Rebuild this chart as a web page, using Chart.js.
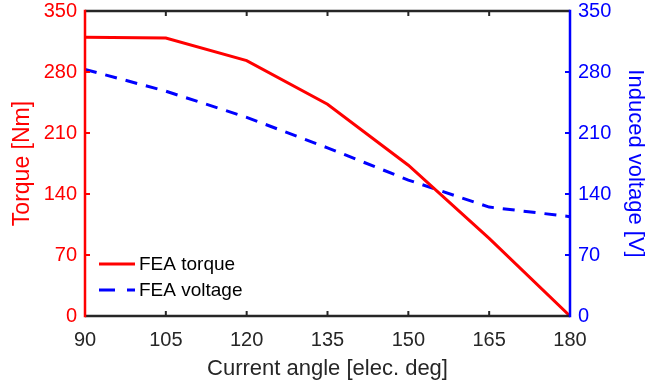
<!DOCTYPE html>
<html><head><meta charset="utf-8">
<script src="https://cdn.jsdelivr.net/npm/chart.js@4/dist/chart.umd.min.js"></script>
<style>html,body{margin:0;padding:0;background:#fff}#wrap{width:663px;height:388px}</style>
</head><body><div id="wrap"><canvas id="c" width="663" height="388"></canvas></div>
<script>
const angles = [90, 105, 120, 135, 150, 165, 180];
const torque = [320, 319, 293, 243, 173, 89, 0];
const voltage = [283, 258, 228, 193, 156, 125, 114];
const xTicks = [90, 105, 120, 135, 150, 165, 180];
const yTicks = [0, 70, 140, 210, 280, 350];
const seriesNames = ['FEA torque', 'FEA voltage'];

const FONT = '"Liberation Sans", Arial, sans-serif';
const DARK = '#262626';

const framePlugin = {
  id: 'frame',
  afterDatasetsDraw(chart) {
    const ctx = chart.ctx, a = chart.chartArea;
    const x = chart.scales.x, y = chart.scales.y, y2 = chart.scales.y2;
    ctx.save();
    ctx.lineCap = 'butt';
    ctx.lineWidth = 2;
    ctx.strokeStyle = DARK;
    xTicks.forEach(v => {
      const px = x.getPixelForValue(v);
      ctx.beginPath(); ctx.moveTo(px, a.bottom); ctx.lineTo(px, a.bottom - 5); ctx.stroke();
      ctx.beginPath(); ctx.moveTo(px, a.top); ctx.lineTo(px, a.top + 5); ctx.stroke();
    });
    ctx.strokeStyle = '#ff0000';
    yTicks.forEach(v => {
      const py = y.getPixelForValue(v);
      ctx.beginPath(); ctx.moveTo(a.left, py); ctx.lineTo(a.left + 5, py); ctx.stroke();
    });
    ctx.strokeStyle = '#0000ff';
    yTicks.forEach(v => {
      const py = y2.getPixelForValue(v);
      ctx.beginPath(); ctx.moveTo(a.right, py); ctx.lineTo(a.right - 5, py); ctx.stroke();
    });
    ctx.lineWidth = 2.5;
    ctx.strokeStyle = DARK;
    ctx.beginPath(); ctx.moveTo(a.left, a.top); ctx.lineTo(a.right, a.top); ctx.stroke();
    ctx.beginPath(); ctx.moveTo(a.left, a.bottom); ctx.lineTo(a.right, a.bottom); ctx.stroke();
    ctx.strokeStyle = '#ff0000';
    ctx.beginPath(); ctx.moveTo(a.left, a.top - 1.25); ctx.lineTo(a.left, a.bottom + 1.25); ctx.stroke();
    ctx.strokeStyle = '#0000ff';
    ctx.beginPath(); ctx.moveTo(a.right, a.top - 1.25); ctx.lineTo(a.right, a.bottom + 1.25); ctx.stroke();
    const ds = chart.data.datasets;
    const lx = a.left + 14, ly0 = a.bottom - 52;
    ds.forEach((d, i) => {
      const ly = ly0 + i * 26;
      ctx.strokeStyle = d.borderColor;
      ctx.lineWidth = d.borderWidth;
      ctx.setLineDash(i === 1 ? [16, 12] : []);
      ctx.beginPath(); ctx.moveTo(lx, ly); ctx.lineTo(lx + 36, ly); ctx.stroke();
      ctx.setLineDash([]);
      ctx.fillStyle = '#000';
      ctx.font = '19px ' + FONT;
      ctx.textBaseline = 'middle';
      ctx.textAlign = 'left';
      ctx.fillText(d.label, lx + 40, ly + 1);
    });
    ctx.restore();
  }
};

new Chart(document.getElementById('c'), {
  type: 'line',
  data: {
    datasets: [
      { label: seriesNames[0], data: angles.map((a, i) => ({x: a, y: torque[i]})), yAxisID: 'y',
        borderColor: '#ff0000', borderWidth: 3, pointRadius: 0, tension: 0, fill: false },
      { label: seriesNames[1], data: angles.map((a, i) => ({x: a, y: voltage[i]})), yAxisID: 'y2',
        borderColor: '#0000ff', borderWidth: 3, borderDash: [12, 9], pointRadius: 0, tension: 0, fill: false }
    ]
  },
  options: {
    responsive: false,
    animation: false,
    events: [],
    layout: { padding: { top: 11, left: 0, right: 0, bottom: 0 } },
    plugins: { legend: { display: false }, tooltip: { enabled: false } },
    scales: {
      x: {
        type: 'linear', min: 90, max: 180,
        afterBuildTicks: s => { s.ticks = xTicks.map(v => ({value: v})); },
        afterFit: s => { s.height = 72; },
        grid: { display: false, drawTicks: false },
        border: { display: false },
        ticks: { color: DARK, font: { size: 20, family: FONT }, padding: 12, maxRotation: 0 },
        title: { display: true, text: 'Current angle [elec. deg]', color: DARK, font: { size: 22, family: FONT }, padding: { top: 0, bottom: 6 } }
      },
      y: {
        position: 'left', min: 0, max: 350,
        afterBuildTicks: s => { s.ticks = yTicks.map(v => ({value: v})); },
        afterFit: s => { s.width = 85; s.paddingTop = 0; s.paddingBottom = 0; },
        grid: { display: false, drawTicks: false },
        border: { display: false },
        ticks: { color: '#ff0000', font: { size: 20, family: FONT, lineHeight: 0.8 }, padding: 8 },
        title: { display: true, text: 'Torque [Nm]', color: '#ff0000', font: { size: 23, family: FONT }, padding: { top: 9, bottom: 0 } }
      },
      y2: {
        position: 'right', min: 0, max: 350,
        afterBuildTicks: s => { s.ticks = yTicks.map(v => ({value: v})); },
        afterFit: s => { s.width = 93; s.paddingTop = 0; s.paddingBottom = 0; },
        grid: { display: false, drawTicks: false },
        border: { display: false },
        ticks: { color: '#0000ff', font: { size: 20, family: FONT, lineHeight: 0.8 }, padding: 8 },
        title: { display: true, text: 'Induced voltage [V]', color: '#0000ff', font: { size: 22, family: FONT }, padding: { top: 15, bottom: 0 } }
      }
    }
  },
  plugins: [framePlugin]
});
</script>
</body></html>
